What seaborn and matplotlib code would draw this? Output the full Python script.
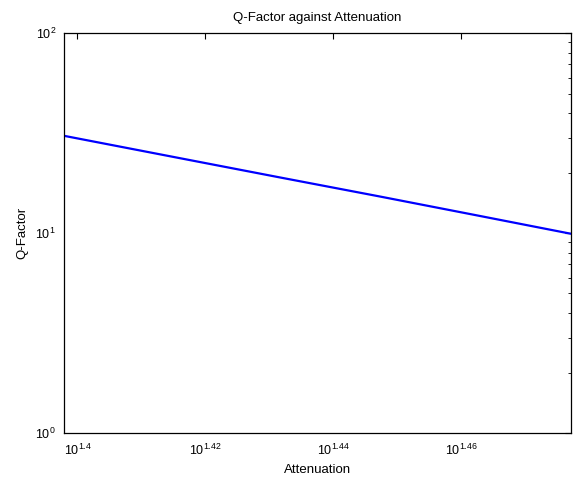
import matplotlib
matplotlib.use('Agg')
import matplotlib.pyplot as plt
import matplotlib.ticker as mticker
import numpy as np
import pandas as pd
import seaborn as sns

# values (log-log plot)
attenuation = [25.0, 26.0, 27.0, 28.0, 29.0, 30.0]
q_factor = [30.7, 24.1, 19.1, 15.3, 12.3, 9.95]

xtick_exps = [1.4, 1.42, 1.44, 1.46]
xtick_labels = ['$10^{1.4}$', '$10^{1.42}$', '$10^{1.44}$', '$10^{1.46}$']
ytick_vals = [1, 10, 100]
ytick_labels = ['$10^{0}$', '$10^{1}$', '$10^{2}$']

sns.set_style('white')
plt.rcParams['font.family'] = ['Liberation Sans', 'DejaVu Sans']
plt.rcParams['mathtext.default'] = 'regular'
plt.rcParams.update({'text.color': 'black', 'axes.labelcolor': 'black',
                     'xtick.color': 'black', 'ytick.color': 'black'})

df = pd.DataFrame({'Attenuation': attenuation, 'Q-Factor': q_factor})

fig = plt.figure(figsize=(5.74, 4.84), dpi=100)
ax = fig.add_axes([0.112, 0.1048, 0.8823, 0.8264])
sns.lineplot(data=df, x='Attenuation', y='Q-Factor', color='#0000ff', lw=1.6, ax=ax)
ax.set_xscale('log')
ax.set_yscale('log')
ax.set_xlim(attenuation[0], attenuation[-1])
ax.set_ylim(ytick_vals[0], ytick_vals[-1])

ax.set_xticks([10 ** e for e in xtick_exps])
ax.set_xticklabels(xtick_labels)
ax.xaxis.set_minor_locator(mticker.NullLocator())
ax.set_yticks(ytick_vals)
ax.set_yticklabels(ytick_labels)
ax.yaxis.set_minor_locator(mticker.LogLocator(base=10, subs=np.arange(2, 10)))
ax.yaxis.set_minor_formatter(mticker.NullFormatter())

ax.tick_params(which='both', direction='in', top=True, right=True, colors='black', labelsize=9)
ax.tick_params(which='major', length=4, width=0.8)
ax.tick_params(axis='x', which='major', pad=7)
ax.tick_params(axis='y', which='major', pad=6)
ax.tick_params(which='minor', length=2.5, width=0.6)
for s in ax.spines.values():
    s.set_color('black')
    s.set_linewidth(0.9)

ax.set_xlabel('Attenuation', fontsize=9.5, labelpad=4)
ax.set_ylabel('Q-Factor', fontsize=9.5, labelpad=5)
ax.set_title('Q-Factor against Attenuation', fontsize=9.5, pad=9)

fig.savefig('out.png', dpi=100)
